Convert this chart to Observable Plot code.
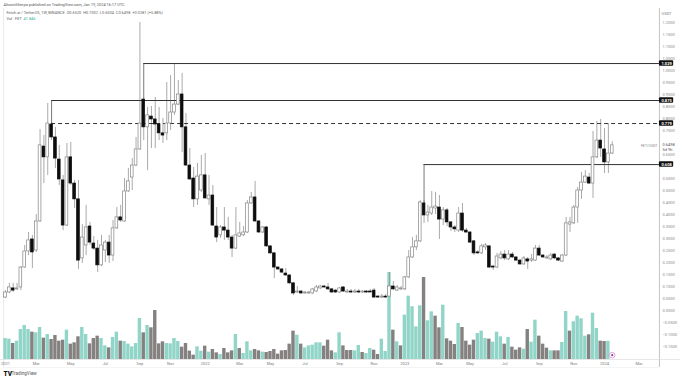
<!DOCTYPE html>
<html><head><meta charset="utf-8">
<script src="https://cdn.jsdelivr.net/npm/d3@7"></script>
<script src="https://cdn.jsdelivr.net/npm/@observablehq/plot@0.6"></script>
<style>html,body{margin:0;padding:0;background:#fff}svg{display:block}</style>
</head><body><div id="chart"></div>
<script>
const open=[.054,.075,.092,.088,.096,.179,.246,.296,.25,.371,
.683,.638,.775,.721,.629,.542,.354,.638,.529,.463,
.217,.271,.35,.279,.258,.188,.25,.283,.229,.342,
.388,.371,.496,.554,.604,.671,.879,.763,.808,.796,
.775,.738,.738,.779,.825,.858,.9,.763,.604,.55,
.463,.5,.563,.463,.479,.35,.313,.346,.333,.304,
.258,.308,.313,.325,.446,.471,.371,.325,.346,.267,
.238,.179,.171,.154,.146,.113,.075,.079,.071,.071,
.071,.079,.092,.1,.096,.088,.083,.075,.096,.075,
.079,.075,.079,.075,.079,.079,.083,.058,.054,.058,
.058,.1,.083,.088,.088,.138,.221,.263,.288,.446,
.396,.404,.425,.429,.379,.417,.367,.346,.333,.404,
.333,.325,.288,.242,.238,.263,.267,.183,.179,.217,
.233,.213,.233,.221,.208,.192,.213,.208,.208,.258,
.229,.217,.213,.233,.217,.204,.229,.358,.363,.429,
.5,.533,.554,.529,.638,.708,.671,.617,.654];
const high=[.083,.113,.113,.113,.183,.271,.325,.313,.4,.754,
.729,.863,.783,.763,.688,.563,.696,.7,.542,.542,
.358,.438,.367,.308,.292,.313,.292,.313,.375,.429,
.438,.55,.592,.633,.721,1.2,.879,.846,.85,.888,
.846,.8,.95,.979,1.029,.958,.988,.821,.675,.596,
.613,.646,.654,.563,.521,.429,.354,.429,.388,.313,
.429,.367,.35,.458,.492,.538,.375,.35,.35,.271,
.242,.183,.175,.175,.15,.117,.1,.083,.079,.079,
.092,.104,.104,.104,.113,.092,.088,.096,.1,.088,
.088,.088,.088,.083,.083,.088,.092,.063,.067,.067,
.158,.121,.104,.1,.142,.25,.304,.313,.458,.458,
.438,.496,.492,.479,.429,.425,.371,.354,.429,.446,
.342,.329,.292,.25,.275,.279,.271,.188,.238,.246,
.25,.25,.242,.225,.213,.225,.221,.233,.271,.271,
.233,.229,.238,.238,.221,.233,.388,.388,.438,.513,
.575,.583,.571,.746,.788,.796,.758,.779,.7032];
const low=[.05,.071,.075,.083,.083,.175,.229,.175,.242,.367,
.529,.563,.708,.592,.521,.333,.35,.521,.425,.171,
.196,.229,.271,.25,.158,.183,.2,.196,.204,.338,
.367,.367,.492,.5,.6,.667,.708,.583,.675,.675,
.708,.696,.708,.75,.813,.854,.658,.6,.542,.429,
.438,.492,.463,.438,.35,.283,.3,.292,.292,.221,
.254,.304,.308,.321,.442,.367,.321,.321,.263,.233,
.133,.167,.154,.142,.108,.063,.071,.067,.067,.067,
.067,.075,.088,.092,.083,.071,.071,.071,.075,.071,
.071,.071,.071,.071,.071,.075,.05,.05,.05,.05,
.054,.083,.079,.083,.083,.133,.217,.25,.283,.363,
.367,.396,.4,.296,.354,.35,.329,.325,.325,.325,
.321,.279,.229,.233,.233,.25,.175,.167,.175,.213,
.208,.208,.217,.204,.188,.188,.171,.2,.204,.225,
.217,.213,.208,.213,.204,.2,.225,.325,.358,.363,
.463,.529,.525,.467,.633,.638,.571,.571,.6504];
const close=[.075,.096,.083,.092,.179,.246,.292,.242,.371,.688,
.638,.779,.721,.633,.546,.354,.638,.529,.463,.208,
.304,.346,.283,.258,.188,.271,.283,.229,.342,.388,
.375,.496,.538,.604,.671,.779,.763,.813,.796,.775,
.738,.729,.779,.825,.858,.9,.763,.604,.546,.463,
.558,.563,.467,.479,.354,.304,.346,.333,.304,.258,
.313,.321,.325,.446,.471,.371,.325,.346,.267,.238,
.179,.171,.158,.146,.113,.071,.079,.071,.075,.075,
.088,.096,.1,.096,.088,.075,.075,.092,.079,.079,
.075,.079,.075,.079,.075,.075,.054,.054,.058,.054,
.1,.088,.096,.092,.138,.221,.263,.288,.45,.396,
.408,.429,.433,.379,.417,.367,.346,.338,.404,.333,
.325,.283,.238,.238,.267,.271,.179,.179,.225,.233,
.217,.233,.221,.208,.192,.217,.204,.213,.258,.229,
.221,.221,.229,.217,.208,.229,.363,.367,.429,.5,
.533,.558,.529,.638,.708,.675,.617,.654,.688];
const volume=[48.3,46.8,36.8,42.2,69,78.2,69,62.9,61.4,73.6,
49.1,57.5,46,55.2,42.2,44.5,67.5,35.3,38.4,52.2,
73.6,57.5,36,48.3,53.7,48.3,31.4,26.8,50.6,62.9,
42.2,41.4,35.3,29.1,36.8,94.3,61.4,78.2,72.9,112.7,
36,40.7,36.8,36,48.3,41.4,28.4,36.8,19.2,10,
29.1,19.2,30.7,16.9,23,15.3,11.5,25.3,15.3,19.9,
57.5,25.3,13.8,40.7,19.9,23,19.9,16.9,16.1,18.4,
23,12.3,19.9,20.7,35.3,65.2,56,35.3,26.8,31.4,
33,38.4,38.4,30.7,44.5,19.9,15.3,61.4,31.4,20.7,
20.7,19.9,32.2,16.1,13.8,25.3,21.5,11.5,46.8,18.4,
200,67.5,40.7,31.4,102,145.7,121.2,75.2,123.5,188.6,
89,109.7,99.7,72.9,125,47.6,42.2,34.5,82.8,73.6,
42.2,33,44.5,59.8,65.2,48.3,46.8,39.9,62.9,52.2,
35.3,50.6,28.4,21.5,26.8,23.8,69,39.9,90.5,53.7,
35.3,26.1,19.9,19.9,19.9,39.1,110.4,65.2,86.7,99.7,
93.6,53.7,56.8,106.6,71.3,42.2,41.4,41.846];
const volumeDir=("TTGTTTTGTTGTGGGGTGGGTTGGGTTGTTGTTTTTGTGGGGTTTTGGGGTTGTGGTGG"+
"GTGTTTGGTGGGGGGGGTGTTTTTGGGTTGGGTTGTTGGTTTGTGTTTTTGTTGGTGGG"+
"TGGGGTTTGTTTGTGGGTGTTGGGTGGTTGTTTTGTTGGT").split("");
const tickIdx=[0,8,17,26,35,43,52,61,69,78,87,96,104,113,121,130,139,148,156,165];
const tickLabels=["2021","Mar","May","Jul","Sep","Nov","2022","Mar","May","Jul","Sep","Nov","2023","Mar","May","Jul","Sep","Nov","2024","Mar"];
const priceTicks=[1.2,1.15,1.1,1.05,1,.95,.9,.85,.8,.75,.65,.55,.5,.45,.4,.35,.3,.25,.2,.15,.1,.05,0,-.05,-.1,-.15];
const levels=[{p:1.029,from:36,knee:.879},{p:.875,from:12,knee:.779},{p:.608,from:109,knee:.446}];
const dashed={p:.779,from:12};
const levelLabels=[1.029,.875,.779,.608];

const DAY=864e5,WEEK=7*DAY,T0=Date.UTC(2021,0,4);
const dateOf=i=>new Date(T0+i*WEEK);
const candles=open.map((o,i)=>({d:dateOf(i),o,c:close[i],h:high[i],l:low[i],up:close[i]>=o}));
const volPerPrice=1/(240*2.3),volBase=-.2042;
const vols=volume.map((v,i)=>({d:dateOf(i),v,up:volumeDir[i]==="T"}));
const half=2.5*DAY,volHalf=3.1*DAY;
const FONT="Roboto, 'Liberation Sans', sans-serif";
const ticks=tickIdx.map((t,i)=>({d:dateOf(t),s:tickLabels[i]}));
const axisX=dateOf(170.3),boxL=dateOf(170.3),boxR=dateOf(174);
const frameTop=1.2583,frameBottom=-.2375;
const fmt=d3.format(".4f");

const plot=Plot.plot({
  width:680,height:379,margin:0,style:{fontFamily:FONT,background:"#fff",overflow:"hidden"},
  x:{type:"utc",domain:[dateOf(0),dateOf(170)],range:[5,657.8],axis:null},
  y:{domain:[310/240,-69/240],range:[0,379],axis:null},
  marks:[
    Plot.ruleX([dateOf(-.5)],{y1:frameBottom,y2:frameTop,stroke:"#e4e4e4",strokeWidth:.8}),
    Plot.ruleX([axisX],{y1:frameBottom,y2:frameTop,stroke:"#c4c4c4",strokeWidth:1}),
    Plot.ruleY([volBase],{stroke:"#dcdcdc",strokeWidth:.7}),
    Plot.ruleY([frameBottom],{x1:dateOf(-.5),x2:axisX,stroke:"#efefef",strokeWidth:.7}),
    Plot.rect(vols,{x1:d=>new Date(+d.d-volHalf),x2:d=>new Date(+d.d+volHalf),
      y1:volBase,y2:d=>volBase+d.v*volPerPrice,fill:d=>d.up?"#90d5c8":"#858181"}),
    Plot.ruleX(candles,{x:"d",y1:"l",y2:"h",stroke:"#949494",strokeWidth:.8}),
    Plot.ruleY(levels,{y:"p",x1:d=>dateOf(d.from),x2:axisX,stroke:"#333",strokeWidth:1}),
    Plot.ruleX(levels,{x:d=>dateOf(d.from),y1:"knee",y2:"p",stroke:"#555",strokeWidth:.8}),
    Plot.ruleY([dashed],{y:"p",x1:d=>dateOf(d.from),x2:axisX,stroke:"#333",strokeWidth:1,strokeDasharray:"4 3"}),
    Plot.rect(candles,{x1:d=>new Date(+d.d-half),x2:d=>new Date(+d.d+half),
      y1:d=>Math.min(d.o,d.c),y2:d=>Math.max(d.o,d.c),
      fill:d=>d.up?"#fff":"#0d0d0d",stroke:d=>d.up?"#858585":"#0d0d0d",strokeWidth:.7}),
    Plot.dot([candles[158]],{x:"d",y:volBase+.018,r:2.8,fill:"#fff",stroke:"#e3a6dc",strokeWidth:1}),
    Plot.dot([candles[158]],{x:"d",y:volBase+.018,r:1.1,fill:"#a33a9a"}),
    Plot.text(ticks,{x:"d",text:"s",frameAnchor:"bottom",dy:-15,fontSize:4,fill:"#7c7c7c"}),
    Plot.text(["USDT"],{frameAnchor:"top-right",dx:-9,dy:12,text:d=>d,fontSize:4,fill:"#7c7c7c"}),
    Plot.text(priceTicks,{y:d=>d,text:d=>(d===0?"0.0000":fmt(d)).replace("-","\u2212"),frameAnchor:"right",dx:-18,textAnchor:"start",fontSize:4,fill:"#8a8a8a"}),
    Plot.rect(levelLabels,{x1:boxL,x2:boxR,y1:d=>d-.0115,y2:d=>d+.0115,fill:"#111",rx:1}),
    Plot.text(levelLabels,{y:d=>d,x:dateOf(172.15),text:d=>d3.format(".3f")(d),fontSize:4,fontWeight:700,fill:"#fff"}),
    Plot.text(["FET/USDT"],{y:.6875,frameAnchor:"right",dx:-23,textAnchor:"end",text:d=>d,fontSize:3.6,fill:"#888"}),
    Plot.text(["0.6498"],{y:.6917,frameAnchor:"right",dx:-18,textAnchor:"start",text:d=>d,fontSize:4,fill:"#555"}),
    Plot.text(["5d 9h"],{y:.6708,frameAnchor:"right",dx:-18,textAnchor:"start",text:d=>d,fontSize:4,fill:"#555"}),
    Plot.text(["AltcoinSherpa published on TradingView.com, Jan 19, 2024 16:17 UTC"],{frameAnchor:"top-left",dx:3,dy:3,textAnchor:"start",lineAnchor:"top",text:d=>d,fontSize:3.9,fill:"#555"}),
    Plot.text(["Fetch.ai / TetherUS, 1W, BINANCE  O0.6520  H0.7032  L0.6504  C0.6498  +0.0281 (+5.88%)"],{frameAnchor:"top-left",dx:6,dy:11,textAnchor:"start",lineAnchor:"top",text:d=>d,fontSize:3.9,fill:"#666"}),
    Plot.text(["Vol \u00b7 FET"],{frameAnchor:"top-left",dx:6,dy:16.5,textAnchor:"start",lineAnchor:"top",text:d=>d,fontSize:3.9,fill:"#666"}),
    Plot.text(["41.846"],{frameAnchor:"top-left",dx:23,dy:16.5,textAnchor:"start",lineAnchor:"top",text:d=>d,fontSize:3.9,fill:"#35b39b"}),
    Plot.text(["TV"],{frameAnchor:"bottom-left",dx:3,dy:-4,textAnchor:"start",text:d=>d,fontSize:6.5,fontWeight:900,fill:"#111"}),
    Plot.text(["TradingView"],{frameAnchor:"bottom-left",dx:11,dy:-4.5,textAnchor:"start",text:d=>d,fontSize:4.6,fill:"#555"})
  ]
});
document.getElementById("chart").appendChild(plot);
</script></body></html>
